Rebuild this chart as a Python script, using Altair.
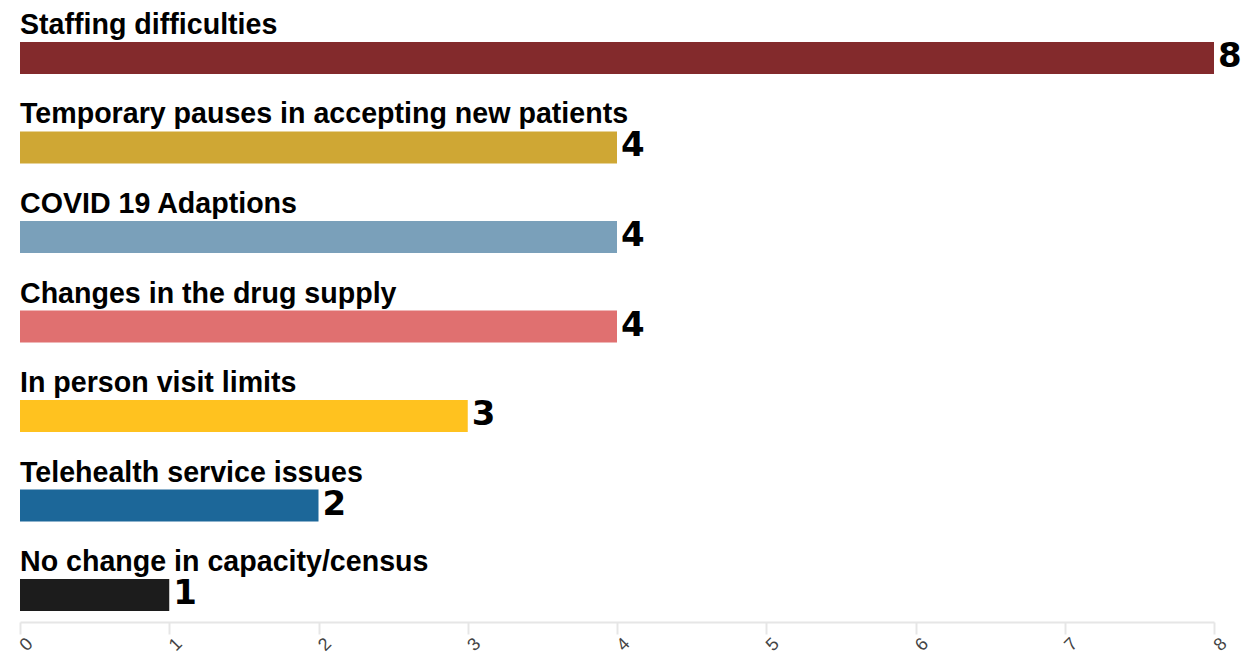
import altair as alt
import pandas as pd

categories = [
    "Staffing difficulties",
    "Temporary pauses in accepting new patients",
    "COVID 19 Adaptions",
    "Changes in the drug supply",
    "In person visit limits",
    "Telehealth service issues",
    "No change in capacity/census",
]
values = [8, 4, 4, 4, 3, 2, 1]
colors = ["#832a2c", "#cfa734", "#7aa0ba", "#e07070", "#ffc21f", "#1c6799", "#1c1c1c"]
x_ticks = [0, 1, 2, 3, 4, 5, 6, 7, 8]

df = pd.DataFrame({"category": categories, "value": values, "color": colors})

y_enc = alt.Y("category:N", sort=categories,
              scale=alt.Scale(type="point", padding=0.43), axis=None)
x_enc = alt.X("value:Q", scale=alt.Scale(domain=[0, 8], nice=False, zero=True),
              axis=alt.Axis(values=x_ticks, format="d", title=None, grid=False,
                            domainColor="#e6e6e6", domainWidth=2,
                            tickColor="#e6e6e6", tickWidth=2, tickSize=12,
                            labelAngle=315, labelAlign="center", labelBaseline="top",
                            labelFont="Liberation Sans", labelFontSize=18,
                            labelColor="#444444", labelPadding=4))

bars = alt.Chart(df).mark_bar(height=32, yOffset=11.5).encode(
    x=x_enc,
    y=y_enc,
    color=alt.Color("color:N", scale=None),
)

cat_labels = alt.Chart(df).mark_text(
    align="left", baseline="alphabetic", dy=-12.5,
    font="Liberation Sans", fontWeight="bold", fontSize=28.6, color="#000000"
).encode(
    x=alt.value(0),
    y=y_enc,
    text="category:N",
)

val_labels = alt.Chart(df).mark_text(
    align="left", baseline="alphabetic", dx=4, dy=20.5,
    font="DejaVu Sans", fontWeight="bold", fontSize=34, color="#000000"
).encode(
    x=alt.X("value:Q"),
    y=y_enc,
    text="value:Q",
)

chart = alt.layer(bars, cat_labels, val_labels).properties(
    width=1194, height=614,
    autosize=alt.AutoSizeParams(type="none"),
    padding={"left": 12, "top": 0, "right": 27, "bottom": 40},
).configure_view(stroke=None)

chart.save("out.html", embed_options={"renderer": "svg", "actions": False})
